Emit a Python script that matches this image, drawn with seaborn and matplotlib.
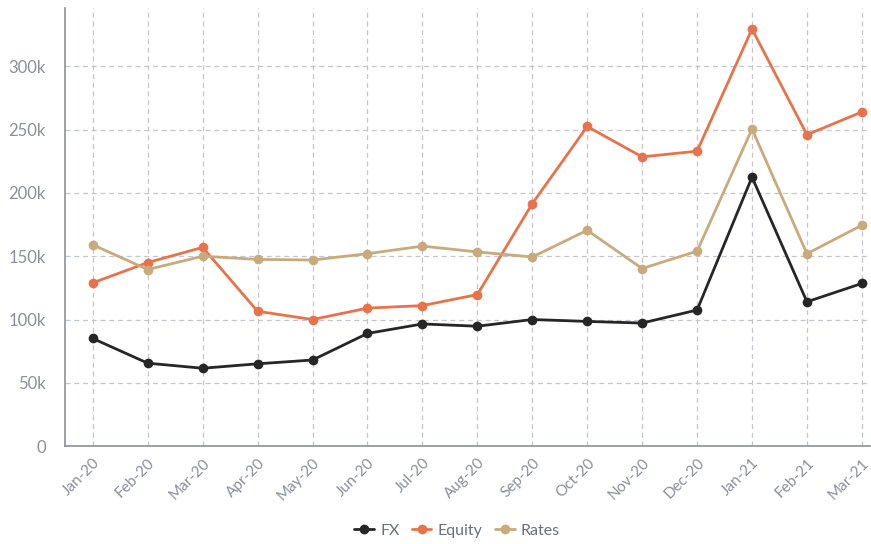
import pandas as pd
import numpy as np
import matplotlib
matplotlib.use("Agg")
import matplotlib.pyplot as plt
import seaborn as sns
from matplotlib.ticker import FuncFormatter

months = ["Jan-20", "Feb-20", "Mar-20", "Apr-20", "May-20", "Jun-20", "Jul-20", "Aug-20",
          "Sep-20", "Oct-20", "Nov-20", "Dec-20", "Jan-21", "Feb-21", "Mar-21"]
fx = [85000, 65500, 61500, 65000, 68000, 89000, 96500, 94700,
      100000, 98500, 97200, 107500, 212500, 114000, 128500]
equity = [129000, 145000, 157000, 106500, 100000, 109000, 111000, 119700,
          191500, 252500, 228500, 233000, 329500, 246000, 264000]
rates = [159000, 139500, 150000, 147500, 147000, 152000, 158000, 153400,
         149400, 170500, 140300, 154000, 250500, 152000, 174500]

series_names = ["FX", "Equity", "Rates"]
colors = ["#262626", "#E8734A", "#C9AA7C"]

df = pd.DataFrame({"Month": months, "FX": fx, "Equity": equity, "Rates": rates})
long = df.melt(id_vars="Month", var_name="Desk", value_name="Value")
long["x"] = long["Month"].map({m: i for i, m in enumerate(months)})

sns.set_style("white")
plt.rcParams["font.family"] = ["Lato", "DejaVu Sans"]

fig = plt.figure(figsize=(8.71, 5.44), dpi=100)
ax = fig.add_axes([0.075, 0.18, 0.924, 0.805])

sns.lineplot(data=long, x="x", y="Value", hue="Desk", hue_order=series_names,
             palette=colors, marker="o", markersize=7, markeredgewidth=0,
             linewidth=2, ax=ax, zorder=3)

ax.set_xlim(-0.5, 14.15)
ax.set_ylim(0, 346000)
ax.set_xticks(range(len(months)))
ax.set_xticklabels(months, rotation=45, ha="right", rotation_mode="anchor",
                   color="#8a8f9a", fontsize=11)
ax.set_yticks(np.arange(0, 300001, 50000))
ax.yaxis.set_major_formatter(FuncFormatter(lambda v, p: "0" if v == 0 else f"{int(v/1000)}k"))
ax.tick_params(axis="y", colors="#8a8f9a", labelsize=12, length=0, pad=14)
ax.tick_params(axis="x", length=0, pad=7)
ax.set_xlabel("")
ax.set_ylabel("")

ax.grid(True, linestyle=(0, (4, 3)), color="#c4c6cc", linewidth=0.9)
ax.set_axisbelow(True)
for s in ["top", "right"]:
    ax.spines[s].set_visible(False)
for s in ["left", "bottom"]:
    ax.spines[s].set_color("#8d909a")
    ax.spines[s].set_linewidth(1.2)

ax.legend_.remove()
handles = [plt.Line2D([0], [0], color=c, marker="o", markersize=6, linewidth=2) for c in colors]
fig.legend(handles, series_names, loc="center", bbox_to_anchor=(0.525, 0.024),
           ncol=3, frameon=False, fontsize=11.5, handlelength=1.2, handletextpad=0.4,
           columnspacing=0.8, labelcolor="#6a6f7a")

fig.savefig("out.png", dpi=100)
